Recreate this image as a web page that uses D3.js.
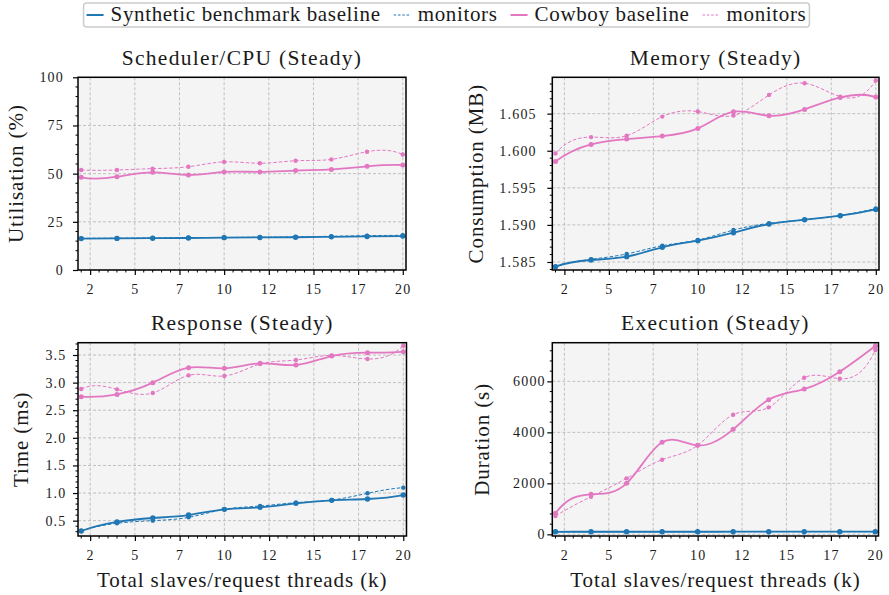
<!DOCTYPE html>
<html>
<head>
<meta charset="utf-8">
<script src="https://cdn.jsdelivr.net/npm/d3@7"></script>
<style>
  body { margin: 0; background: #fff; }
  svg { display: block; }
  text { font-family: "Liberation Serif", "Times New Roman", serif; fill: #1a1a1a; }
</style>
</head>
<body>
<svg id="chart" width="889" height="595"></svg>
<script>
// x values: thousands of slaves / request threads
const threads = [2, 4, 6, 8, 10, 12, 14, 16, 18, 20];
const xTicks = [2.5, 5, 7.5, 10, 12.5, 15, 17.5, 20];
const xTickLabels = ["2", "5", "7", "10", "12", "15", "17", "20"];

const legendNames = ["Synthetic benchmark baseline", "monitors", "Cowboy baseline", "monitors"];

// Scheduler/CPU utilisation (%)
const cpuSynth    = [16.3, 16.4, 16.5, 16.6, 16.8, 16.9, 17.0, 17.2, 17.4, 17.6];
const cpuSynthMon = [16.4, 16.5, 16.6, 16.8, 16.9, 17.0, 17.2, 17.5, 17.8, 18.0];
const cpuCow      = [48.1, 48.4, 50.7, 49.3, 50.9, 50.9, 51.6, 52.2, 53.8, 54.5];
const cpuCowMon   = [51.9, 51.9, 52.6, 53.6, 56.1, 55.4, 56.7, 57.4, 61.4, 59.9];

// Memory consumption (MB)
const memSynth    = [1.58437, 1.58527, 1.58572, 1.58698, 1.58788, 1.58895, 1.59012, 1.59070, 1.59124, 1.59209];
const memSynthMon = [1.58437, 1.58536, 1.58608, 1.58720, 1.58796, 1.58931, 1.59021, 1.59070, 1.59128, 1.59222];
const memCow      = [1.59856, 1.60085, 1.60157, 1.60198, 1.60301, 1.60526, 1.60472, 1.60557, 1.60719, 1.60724];
const memCowMon   = [1.59964, 1.60184, 1.60202, 1.60460, 1.60528, 1.60474, 1.60753, 1.60910, 1.60730, 1.60946];

// Response time (ms)
const respSynth    = [0.313, 0.476, 0.548, 0.602, 0.705, 0.741, 0.814, 0.868, 0.892, 0.964];
const respSynthMon = [0.313, 0.452, 0.500, 0.560, 0.705, 0.765, 0.826, 0.874, 0.995, 1.098];
const respCow      = [2.745, 2.787, 2.999, 3.271, 3.258, 3.349, 3.319, 3.482, 3.542, 3.560];
const respCowMon   = [2.884, 2.878, 2.812, 3.132, 3.120, 3.337, 3.409, 3.494, 3.428, 3.669];

// Execution duration (s)
const execSynth    = [100, 101, 101, 102, 102, 103, 103, 104, 104, 105];
const execSynthMon = [101, 102, 102, 103, 103, 104, 104, 105, 105, 106];
const execCow      = [824, 1569, 2000, 3608, 3490, 4118, 5281, 5699, 6379, 7386];
const execCowMon   = [719, 1477, 2196, 2928, 3490, 4693, 4980, 6144, 6105, 7229];

const blue = "#1f77b4", pink = "#e377c2";
const serif = '"Liberation Serif", "Times New Roman", serif';

// cubic spline with not-a-knot ends, used as a d3 curve
function NotAKnot(context) { this._context = context; }
NotAKnot.prototype = {
  areaStart() { this._line = 0; },
  areaEnd() { this._line = NaN; },
  lineStart() { this._x = []; this._y = []; },
  point(x, y) { this._x.push(+x); this._y.push(+y); },
  lineEnd() {
    let X = this._x, Y = this._y, n = X.length, c = this._context;
    if (!n) return;
    c.moveTo(X[0], Y[0]);
    if (n < 4) { for (let i = 1; i < n; i++) c.lineTo(X[i], Y[i]); return; }
    let h = [];
    for (let i = 0; i < n - 1; i++) h.push(X[i + 1] - X[i]);
    // build system for second derivatives M
    let A = [], b = [];
    for (let i = 0; i < n; i++) { A.push(new Array(n).fill(0)); b.push(0); }
    A[0][0] = -1 / h[0]; A[0][1] = 1 / h[0] + 1 / h[1]; A[0][2] = -1 / h[1];
    for (let i = 1; i < n - 1; i++) {
      A[i][i - 1] = h[i - 1];
      A[i][i] = 2 * (h[i - 1] + h[i]);
      A[i][i + 1] = h[i];
      b[i] = 6 * ((Y[i + 1] - Y[i]) / h[i] - (Y[i] - Y[i - 1]) / h[i - 1]);
    }
    let k = n - 1;
    A[k][k - 2] = -1 / h[k - 2]; A[k][k - 1] = 1 / h[k - 2] + 1 / h[k - 1]; A[k][k] = -1 / h[k - 1];
    // gaussian elimination
    for (let col = 0; col < n; col++) {
      let piv = col;
      for (let r = col + 1; r < n; r++) if (Math.abs(A[r][col]) > Math.abs(A[piv][col])) piv = r;
      [A[col], A[piv]] = [A[piv], A[col]]; [b[col], b[piv]] = [b[piv], b[col]];
      for (let r = col + 1; r < n; r++) {
        let f = A[r][col] / A[col][col];
        for (let j = col; j < n; j++) A[r][j] -= f * A[col][j];
        b[r] -= f * b[col];
      }
    }
    let M = new Array(n).fill(0);
    for (let r = n - 1; r >= 0; r--) {
      let s = b[r];
      for (let j = r + 1; j < n; j++) s -= A[r][j] * M[j];
      M[r] = s / A[r][r];
    }
    let d = [];
    for (let i = 0; i < n - 1; i++) d.push((Y[i + 1] - Y[i]) / h[i] - h[i] * (2 * M[i] + M[i + 1]) / 6);
    d.push((Y[k] - Y[k - 1]) / h[k - 1] + h[k - 1] * (M[k - 1] + 2 * M[k]) / 6);
    for (let i = 0; i < n - 1; i++) {
      let t = h[i] / 3;
      c.bezierCurveTo(X[i] + t, Y[i] + d[i] * t, X[i + 1] - t, Y[i + 1] - d[i + 1] * t, X[i + 1], Y[i + 1]);
    }
  }
};
const curveNotAKnot = context => new NotAKnot(context);

let svg = d3.select("#chart");

let panels = [
  { title: "Scheduler/CPU (Steady)", ylabel: "Utilisation (%)",
    series: [cpuSynth, cpuSynthMon, cpuCow, cpuCowMon],
    yDomain: [0, 100], yTicks: [0, 25, 50, 75, 100], yMinor: 5, fmt: d3.format("d"),
    box: [78, 77.3, 406, 270], ylabX: 16, yPad: 9, xlabel: false },
  { title: "Memory (Steady)", ylabel: "Consumption (MB)",
    series: [memSynth, memSynthMon, memCow, memCowMon],
    yDomain: [1.58392, 1.6099], yTicks: [1.585, 1.59, 1.595, 1.6, 1.605], yMinor: 0.001, fmt: d3.format(".3f"),
    box: [552.3, 77.3, 879, 270], ylabX: 476, yPad: 10.5, xlabel: false },
  { title: "Response (Steady)", ylabel: "Time (ms)",
    series: [respSynth, respSynthMon, respCow, respCowMon],
    yDomain: [0.222, 3.723], yTicks: [0.5, 1, 1.5, 2, 2.5, 3, 3.5], yMinor: 0.1, fmt: d3.format(".1f"),
    box: [78, 342.7, 406.5, 536], ylabX: 21, yPad: 6.5, xlabel: true },
  { title: "Execution (Steady)", ylabel: "Duration (s)",
    series: [execSynth, execSynthMon, execCow, execCowMon],
    yDomain: [-65, 7516], yTicks: [0, 2000, 4000, 6000], yMinor: 400, fmt: d3.format("d"),
    box: [552.3, 342.7, 878.5, 536], ylabX: 482, yPad: 1.5, xlabel: true }
];

let styles = [
  { color: blue, width: 1.8, dash: null, r: 2.7 },
  { color: blue, width: 1.0, dash: "3.5,2", r: 2.2 },
  { color: pink, width: 1.8, dash: null, r: 2.5 },
  { color: pink, width: 1.0, dash: "3.5,2", r: 2.2 }
];

function range(a, b, step) {
  let out = [];
  let n = Math.round((b - a) / step);
  for (let i = 0; i <= n; i++) out.push(a + i * step);
  return out;
}

panels.forEach((p, pi) => {
  let [x0, y0, x1, y1] = p.box;
  let x = d3.scaleLinear().domain([1.82, 20.18]).range([x0, x1]);
  let y = d3.scaleLinear().domain(p.yDomain).range([y1, y0]);

  let g = svg.append("g");

  g.append("rect")
    .attr("x", x0).attr("y", y0)
    .attr("width", x1 - x0).attr("height", y1 - y0)
    .attr("fill", "#f4f4f4");

  // grid
  g.selectAll(".gx").data(xTicks).enter().append("line")
    .attr("x1", d => x(d)).attr("x2", d => x(d))
    .attr("y1", y0).attr("y2", y1)
    .attr("stroke", "#b3b3b3").attr("stroke-width", 0.8).attr("stroke-dasharray", "3,2");
  g.selectAll(".gy").data(p.yTicks).enter().append("line")
    .attr("x1", x0).attr("x2", x1)
    .attr("y1", d => y(d)).attr("y2", d => y(d))
    .attr("stroke", "#b3b3b3").attr("stroke-width", 0.8).attr("stroke-dasharray", "3,2");

  // minor ticks
  let xm = range(2, 20, 0.5).filter(v => !xTicks.includes(v));
  g.selectAll(".mx").data(xm).enter().append("line")
    .attr("x1", d => x(d)).attr("x2", d => x(d))
    .attr("y1", y1).attr("y2", y1 + 2.5)
    .attr("stroke", "#000").attr("stroke-width", 1);
  let lo = Math.ceil(p.yDomain[0] / p.yMinor) * p.yMinor;
  let ym = range(lo, p.yDomain[1], p.yMinor)
    .filter(v => v >= p.yDomain[0] && v <= p.yDomain[1])
    .filter(v => !p.yTicks.some(t => Math.abs(t - v) < p.yMinor / 10));
  g.selectAll(".my").data(ym).enter().append("line")
    .attr("x1", x0 - 2.5).attr("x2", x0)
    .attr("y1", d => y(d)).attr("y2", d => y(d))
    .attr("stroke", "#000").attr("stroke-width", 1);

  // major axes
  let xa = g.append("g")
    .attr("transform", "translate(0," + y1 + ")")
    .call(d3.axisBottom(x).tickValues(xTicks)
      .tickFormat((d, i) => xTickLabels[i])
      .tickSize(5).tickSizeOuter(0).tickPadding(9));
  let ya = g.append("g")
    .attr("transform", "translate(" + x0 + ",0)")
    .call(d3.axisLeft(y).tickValues(p.yTicks).tickFormat(p.fmt)
      .tickSize(5).tickSizeOuter(0).tickPadding(p.yPad));
  [xa, ya].forEach(a => {
    a.attr("font-family", serif).attr("font-size", 14);
    a.select(".domain").remove();
    a.selectAll("line").attr("stroke", "#000").attr("stroke-width", 1.2);
    a.selectAll("text")
      .style("font-family", serif)
      .style("font-size", "14px")
      .style("letter-spacing", "1.2px")
      .attr("fill", "#1a1a1a");
  });

  // clip
  let clipId = "clip" + pi;
  g.append("clipPath").attr("id", clipId)
    .append("rect").attr("x", x0).attr("y", y0).attr("width", x1 - x0).attr("height", y1 - y0);

  let line = d3.line()
    .x((d, i) => x(threads[i]))
    .y(d => y(d))
    .curve(curveNotAKnot);

  let plot = g.append("g").attr("clip-path", "url(#" + clipId + ")");
  p.series.forEach((s, si) => {
    let st = styles[si];
    plot.append("path")
      .attr("d", line(s))
      .attr("fill", "none")
      .attr("stroke", st.color)
      .attr("stroke-width", st.width)
      .attr("stroke-dasharray", st.dash);
  });
  p.series.forEach((s, si) => {
    let st = styles[si];
    plot.selectAll(null).data(s).enter().append("circle")
      .attr("cx", (d, i) => x(threads[i]))
      .attr("cy", d => y(d))
      .attr("r", st.r)
      .attr("fill", st.color);
  });

  // frame
  g.append("rect")
    .attr("x", x0).attr("y", y0)
    .attr("width", x1 - x0).attr("height", y1 - y0)
    .attr("fill", "none").attr("stroke", "#000").attr("stroke-width", 1.5);

  // labels
  g.append("text")
    .attr("x", (x0 + x1) / 2).attr("y", y0 - 12.5)
    .attr("text-anchor", "middle")
    .style("font-size", "21.5px")
    .style("letter-spacing", "1.3px")
    .text(p.title);
  g.append("text")
    .attr("transform", "translate(" + p.ylabX + "," + ((y0 + y1) / 2) + ") rotate(-90)")
    .attr("text-anchor", "middle")
    .attr("dominant-baseline", "central")
    .style("font-size", "21px")
    .style("letter-spacing", "0.9px")
    .text(p.ylabel);
  if (p.xlabel) {
    g.append("text")
      .attr("x", (x0 + x1) / 2).attr("y", y1 + 51)
      .attr("text-anchor", "middle")
      .style("font-size", "21px")
      .style("letter-spacing", "0.9px")
      .text("Total slaves/request threads (k)");
  }
});

// legend
let leg = svg.append("g");
let legBox = leg.append("rect")
  .attr("y", 3).attr("height", 24).attr("rx", 3)
  .attr("fill", "#fff").attr("stroke", "#cccccc").attr("stroke-width", 1.5);
let cx = 0;
let items = leg.append("g");
legendNames.forEach((name, i) => {
  let st = styles[i];
  items.append("line")
    .attr("x1", cx + 3).attr("x2", cx + 20)
    .attr("y1", 15).attr("y2", 15)
    .attr("stroke", st.color)
    .attr("stroke-width", st.dash ? 1 : 2)
    .attr("stroke-dasharray", st.dash ? "2.5,1.8" : null);
  let t = items.append("text")
    .attr("x", cx + 27).attr("y", 21)
    .style("font-size", "21px")
    .style("letter-spacing", "0.65px")
    .text(name);
  cx += 27 + t.node().getComputedTextLength() + 10;
});
let legW = cx - 7;
let legX = 446.5 - legW / 2;
items.attr("transform", "translate(" + legX + ",0)");
legBox.attr("x", legX).attr("width", legW);
</script>
</body>
</html>
